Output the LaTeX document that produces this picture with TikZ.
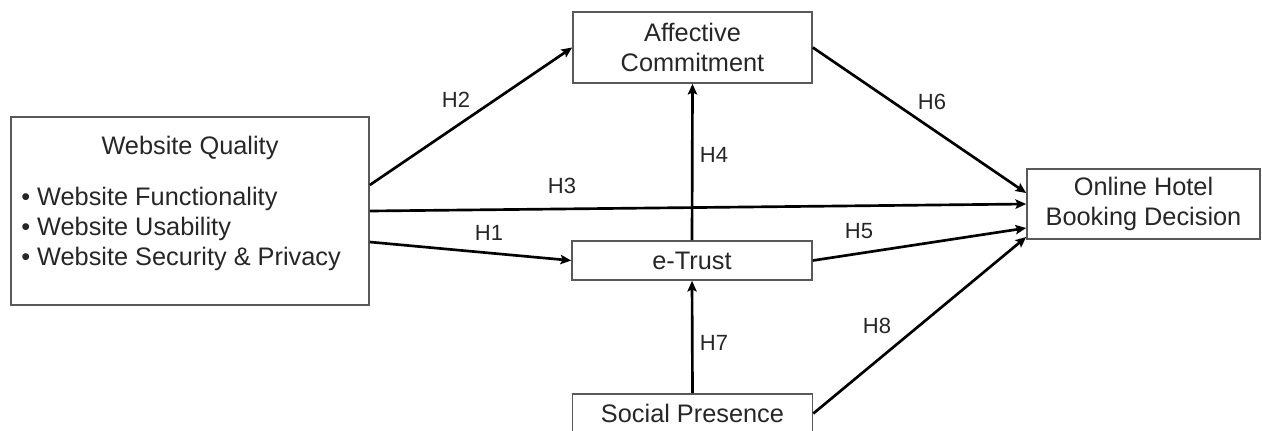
\documentclass[tikz,border=0pt]{standalone}
\usepackage{fontspec}
\setmainfont{Liberation Sans}
\usetikzlibrary{arrows.meta}
\begin{document}
\begin{tikzpicture}[x=0.75pt,y=-0.75pt,
  box/.style={draw=black!65,line width=1.2pt,inner sep=0pt,align=center,
    font=\fontsize{19}{22.5}\selectfont,text=black!85},
  txt/.style={inner sep=0pt,font=\fontsize{19}{22.5}\selectfont,text=black!85},
  lbl/.style={inner sep=0pt,font=\fontsize{16.5}{19}\selectfont,text=black!85},
  arr/.style={line width=2pt,-{Stealth[length=8pt,width=7pt,inset=1.5pt]}}]
\useasboundingbox (0,0) rectangle (1262,430);
\clip (0,0) rectangle (1262,430);
% boxes
\node[box,minimum width=268.5pt,minimum height=141pt] (wq) at (190,211) {};
\node[txt] (wqt) at (190,148) {Website Quality};
\node[txt,anchor=west,align=left] (wql) at (21,229) {• Website Functionality\\• Website Usability\\• Website Security \& Privacy};
\node[box,minimum width=179.25pt,minimum height=53.25pt] (ac) at (692.5,47.5) {Affective\\Commitment};
\node[box,minimum width=180pt,minimum height=29.25pt] (et) at (692,260.5) {e-Trust};
\node[box,minimum width=180pt,minimum height=29.25pt] (sp) at (692.5,413.5) {Social Presence};
\node[box,minimum width=174.75pt,minimum height=52.5pt] (ohb) at (1143.5,204) {Online Hotel\\Booking Decision};
% connectors
\draw[arr] ([yshift=19.5pt]wq.east) -- (ac.west);
\draw[arr] (wq.east) -- (ohb.west);
\draw[arr] ([yshift=-23.25pt]wq.east) -- (et.west);
\draw[arr] (et.north) -- (ac.south);
\draw[arr] (sp.north) -- (et.south);
\draw[arr] (et.east) -- ([yshift=-18pt]ohb.west);
\draw[arr] (ac.east) -- ([yshift=8.25pt]ohb.west);
\draw[arr] (sp.east) -- ([yshift=-24.75pt]ohb.west);
% labels
\node[lbl] (h2) at (456,100) {H2};
\node[lbl] (h3) at (562,186) {H3};
\node[lbl] (h1) at (489,233) {H1};
\node[lbl] (h4) at (714,155) {H4};
\node[lbl] (h6) at (932,102) {H6};
\node[lbl] (h5) at (859,231) {H5};
\node[lbl] (h8) at (877,326) {H8};
\node[lbl] (h7) at (714,343) {H7};
\end{tikzpicture}
\end{document}
